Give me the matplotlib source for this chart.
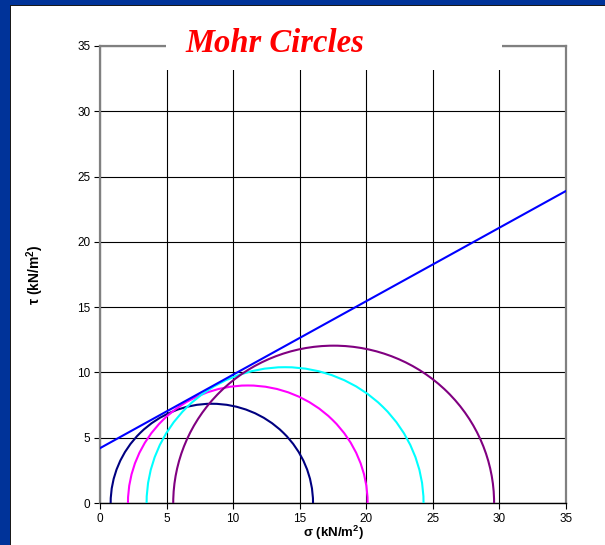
import matplotlib
matplotlib.use("Agg")
import matplotlib.pyplot as plt
from matplotlib.patches import Arc, Rectangle

# ---- data ----
sigma3 = [0.8, 2.1, 3.5, 5.5]
sigma1 = [16.0, 20.1, 24.3, 29.6]
circle_colors = ["#000080", "#FF00FF", "#00FFFF", "#800080"]
env_sigma = [0.0, 35.0]
env_tau = [4.2, 23.9]
xticks = [0, 5, 10, 15, 20, 25, 30, 35]
yticks = [0, 5, 10, 15, 20, 25, 30, 35]

plt.rcParams['font.family'] = ['Liberation Sans', 'DejaVu Sans']
plt.rcParams['mathtext.fontset'] = 'custom'
plt.rcParams['mathtext.rm'] = 'Liberation Sans'
plt.rcParams['mathtext.bf'] = 'Liberation Sans:bold'

W, H = 605, 545
fig = plt.figure(figsize=(W / 100, H / 100), dpi=100)
fig.patch.set_facecolor("#003399")

# white panel with dark edge
fig.patches.append(Rectangle((10 / W, 0), 1, 1 - 5 / H, transform=fig.transFigure,
                             facecolor="#1a1a1a", edgecolor="none", zorder=-2))
fig.patches.append(Rectangle((11 / W, 0), 1, 1 - 6 / H, transform=fig.transFigure,
                             facecolor="white", edgecolor="none", zorder=-1))

ax = fig.add_axes([100 / W, 42 / H, 466 / W, 457 / H])
ax.set_facecolor("white")
ax.set_xlim(0, 35)
ax.set_ylim(0, 35)
ax.set_xticks(xticks)
ax.set_yticks(yticks)
ax.grid(True, color="black", linewidth=0.8)
ax.set_axisbelow(True)
for s in ["left", "top", "right"]:
    ax.spines[s].set_color("#808080")
    ax.spines[s].set_linewidth(1.6)
ax.spines["bottom"].set_color("black")
ax.spines["bottom"].set_linewidth(1.0)
ax.tick_params(direction="out", length=4, width=0.8, colors="black", labelsize=8.5,
               pad=3)

for s3, s1, col in zip(sigma3, sigma1, circle_colors):
    c = (s1 + s3) / 2
    d = s1 - s3
    ax.add_patch(Arc((c, 0), d, d, theta1=0, theta2=180, color=col, lw=1.5, zorder=3))

ax.plot(env_sigma, env_tau, color="#0000FF", lw=1.5, zorder=4)

ax.set_xlabel(r"σ (kN/m$^{\mathbf{2}}$)", fontsize=9.5, fontweight="bold", labelpad=-1)
ax.set_ylabel(r"τ (kN/m$^{\mathbf{2}}$)", fontsize=10, fontweight="bold", labelpad=22)

# title box covering top of chart
fig.patches.append(Rectangle((166 / W, 1 - 70 / H), (502 - 166) / W, 45 / H,
                             transform=fig.transFigure, facecolor="white",
                             edgecolor="none", zorder=5))
fig.text(274.5 / W, 1 - 43 / H, "Mohr Circles", color="red", fontsize=23.5,
         fontweight="bold", fontstyle="italic", family="Liberation Serif",
         ha="center", va="center", zorder=6)

fig.savefig("out.png", dpi=100, facecolor=fig.get_facecolor())
